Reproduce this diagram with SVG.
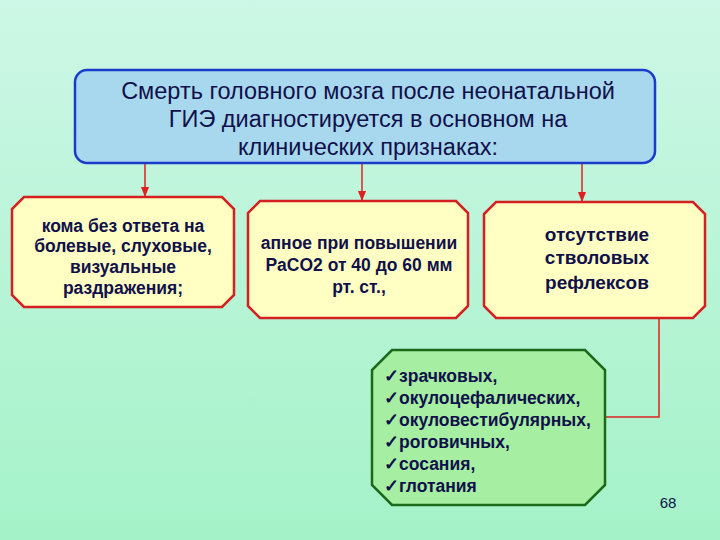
<svg xmlns="http://www.w3.org/2000/svg" width="720" height="540" viewBox="0 0 720 540">
<defs>
<linearGradient id="bg" x1="0" y1="0" x2="0" y2="1"><stop offset="0" stop-color="#cdf7e6"/><stop offset="1" stop-color="#a4f2c8"/></linearGradient>
<marker id="ar" viewBox="0 0 10 10" refX="9" refY="5" markerWidth="7" markerHeight="7" orient="auto"><path d="M0,1 L10,5 L0,9 z" fill="#e02020"/></marker>
<style>
.y{fill:#ffffc4;stroke:#d42020;stroke-width:2.5}
.t{font-family:"Liberation Sans",Arial,sans-serif;fill:#10104a;text-anchor:middle}
.b{font-weight:bold}
.c{stroke:#e02020;stroke-width:1.5;fill:none}
</style>
</defs>
<rect width="720" height="540" fill="url(#bg)"/>
<g id="connectors">
<line class="c" x1="145" y1="163" x2="145" y2="196" marker-end="url(#ar)"/>
<line class="c" x1="362" y1="163" x2="362" y2="200" marker-end="url(#ar)"/>
<line class="c" x1="582" y1="163" x2="582" y2="201" marker-end="url(#ar)"/>
<polyline class="c" points="659,318 659,417 605,417"/>
</g>
<g id="top">
<rect x="75" y="70" width="580" height="93" rx="12" fill="#a8d8ee" stroke="#1a3ccc" stroke-width="2.5"/>
<text class="t" font-size="23.5"><tspan x="368" y="99">Смерть головного мозга после неонатальной</tspan><tspan x="368" y="127">ГИЭ диагностируется в основном на</tspan><tspan x="368" y="155">клинических признаках:</tspan></text>
</g>
<g id="n1">
<polygon class="y" points="24,197 222,197 234,209 234,295 222,307 24,307 12,295 12,209"/>
<text class="t b" font-size="17.5"><tspan x="123" y="232">кома без ответа на</tspan><tspan x="123" y="252">болевые, слуховые,</tspan><tspan x="123" y="273">визуальные</tspan><tspan x="123" y="294">раздражения;</tspan></text>
</g>
<g id="n2">
<polygon class="y" points="260,201 456,201 468,213 468,306 456,318 260,318 248,306 248,213"/>
<text class="t b" font-size="17.5"><tspan x="359" y="249">апное при повышении</tspan><tspan x="359" y="271">PaCO2 от 40 до 60 мм</tspan><tspan x="359" y="293">рт. ст.,</tspan></text>
</g>
<g id="n3">
<polygon class="y" points="496,202 693,202 705,214 705,306 693,318 496,318 484,306 484,214"/>
<text class="t b" font-size="19"><tspan x="597" y="241">отсутствие</tspan><tspan x="597" y="264">стволовых</tspan><tspan x="597" y="289">рефлексов</tspan></text>
</g>
<g id="n4">
<polygon points="392,350 585,350 605,370 605,485 585,505 392,505 372,485 372,370" fill="#a6eea2" stroke="#1a6a1a" stroke-width="2.5"/>
<text class="t b" font-size="17.5" style="text-anchor:start"><tspan x="384" y="382">✓зрачковых,</tspan><tspan x="384" y="404">✓окулоцефалических,</tspan><tspan x="384" y="426">✓окуловестибулярных,</tspan><tspan x="384" y="448">✓роговичных,</tspan><tspan x="384" y="470">✓сосания,</tspan><tspan x="384" y="492">✓глотания</tspan></text>
</g>
<text x="668" y="508" class="t" font-size="15" fill="#222">68</text>
</svg>
